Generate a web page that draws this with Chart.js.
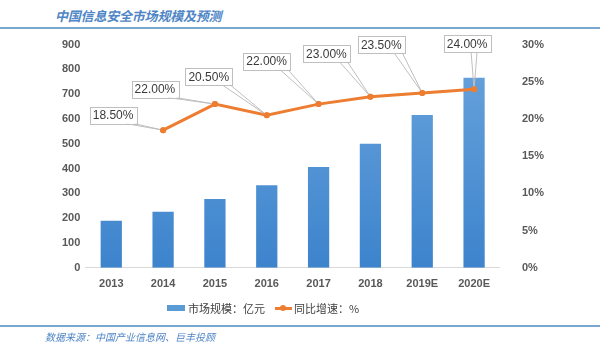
<!DOCTYPE html>
<html>
<head>
<meta charset="utf-8">
<script src="https://cdn.jsdelivr.net/npm/chart.js@4.4.0/dist/chart.umd.min.js"></script>
<style>
  html, body { margin:0; padding:0; background:#fff; }
  #wrap { position:relative; width:600px; height:352px; overflow:hidden; background:#fff; }
  #title { position:absolute; left:55px; top:6px; font-family:"Noto Sans CJK SC"; font-size:13px; font-weight:bold; font-style:italic; color:#4f86c6; line-height:20px; white-space:nowrap; letter-spacing:-0.2px; }
  .hline { position:absolute; left:0; width:600px; height:2px; background:#79a7cf; }
  #box { position:absolute; left:0; top:16px; width:600px; height:285px; }
  #legend { position:absolute; top:299px; left:0; width:600px; height:18px; font-family:"Noto Sans CJK SC"; font-size:11px; color:#404040; }
  .lg { position:absolute; top:0; line-height:18px; white-space:nowrap; }
  #source { position:absolute; left:45px; top:329px; font-family:"Noto Sans CJK SC"; font-size:10px; font-style:italic; color:#4f86c6; line-height:16px; white-space:nowrap; }
</style>
</head>
<body>
<div id="wrap">
  <div id="title">中国信息安全市场规模及预测</div>
  <div class="hline" style="top:27px"></div>
  <div id="box"><canvas id="c"></canvas></div>
  <div id="legend">
    <div style="position:absolute;left:167px;top:6px;width:18px;height:6px;background:#5b9bd5"></div>
    <div class="lg" style="left:188px">市场规模：亿元</div>
    <div style="position:absolute;left:275px;top:8px;width:17px;height:3px;background:#ed7d31"></div>
    <div style="position:absolute;left:280px;top:6px;width:6px;height:6px;border-radius:50%;background:#ed7d31"></div>
    <div class="lg" style="left:294px">同比增速：%</div>
  </div>
  <div class="hline" style="top:325px"></div>
  <div id="source">数据来源：中国产业信息网、巨丰投顾</div>
</div>
<script>
const categories = ["2013", "2014", "2015", "2016", "2017", "2018", "2019E", "2020E"];
const marketSize = [190, 226, 277, 333, 406, 500, 616, 766];
const growthRate = [null, 18.5, 22.0, 20.5, 22.0, 23.0, 23.5, 24.0];
const leftTicks = [0, 100, 200, 300, 400, 500, 600, 700, 800, 900];
const rightTicks = [0, 5, 10, 15, 20, 25, 30];

// label box offsets (style only), relative to point
const labelOffsets = [null, [-50,-15], [-60,-15], [-58,-39], [-52,-43], [-44,-43], [-41,-48], [-7,-46]];

const fontFam = '"Liberation Sans", Arial, sans-serif';

const calloutPlugin = {
  id: 'callouts',
  afterDatasetsDraw(chart) {
    const ctx = chart.ctx;
    const meta = chart.getDatasetMeta(1);
    ctx.save();
    ctx.font = '12px ' + fontFam;
    meta.data.forEach((pt, i) => {
      const v = growthRate[i];
      if (v === null || v === undefined) return;
      const off = labelOffsets[i];
      const txt = v.toFixed(2) + '%';
      const tw = ctx.measureText(txt).width;
      const w = tw + 6, h = 17;
      const cx = pt.x + off[0], cy = pt.y + off[1];
      const x0 = cx - w/2, y0 = cy - h/2;
      ctx.strokeStyle = '#bfbfbf';
      ctx.lineWidth = 1;
      const bx = Math.min(Math.max(pt.x, x0 + 6), x0 + w - 6);
      const a1 = off[0] < -20 ? x0 + w - 10 : bx - 3;
      const a2 = off[0] < -20 ? x0 + w - 2 : bx + 3;
      ctx.beginPath();
      ctx.moveTo(a1, y0 + h);
      ctx.lineTo(pt.x, pt.y);
      ctx.lineTo(a2, y0 + h);
      ctx.stroke();
      ctx.fillStyle = '#ffffff';
      ctx.fillRect(x0, y0, w, h);
      ctx.strokeRect(Math.round(x0)+0.5, Math.round(y0)+0.5, Math.round(w), h);
      ctx.fillStyle = '#3a3a3a';
      ctx.textAlign = 'center';
      ctx.textBaseline = 'middle';
      ctx.fillText(txt, cx, cy + 1);
    });
    meta.data.forEach((pt, i) => {
      if (growthRate[i] === null) return;
      ctx.beginPath();
      ctx.fillStyle = '#ed7d31';
      ctx.arc(pt.x, pt.y, 3, 0, Math.PI*2);
      ctx.fill();
    });
    ctx.restore();
  }
};

new Chart(document.getElementById('c'), {
  data: {
    labels: categories,
    datasets: [
      {
        type: 'bar',
        label: '市场规模：亿元',
        data: marketSize,
        yAxisID: 'y',
        order: 2,
        barPercentage: 0.41,
        categoryPercentage: 1.0,
        backgroundColor: (c) => {
          const ca = c.chart.chartArea;
          if (!ca) return '#5b9bd5';
          const g = c.chart.ctx.createLinearGradient(0, ca.top, 0, ca.bottom);
          g.addColorStop(0, '#6aa4dc');
          g.addColorStop(1, '#3d84cd');
          return g;
        }
      },
      {
        type: 'line',
        label: '同比增速：%',
        data: growthRate,
        yAxisID: 'y1',
        order: 1,
        borderColor: '#ed7d31',
        backgroundColor: '#ed7d31',
        borderWidth: 3,
        pointRadius: 3,
        pointBackgroundColor: '#ed7d31',
        pointBorderWidth: 0,
        tension: 0,
        spanGaps: false
      }
    ]
  },
  options: {
    responsive: true,
    maintainAspectRatio: false,
    animation: false,
    layout: { padding: { left: 57, right: 34, top: 8, bottom: 0 } },
    plugins: { legend: { display: false }, tooltip: { enabled: false } },
    scales: {
      x: {
        offset: true,
        grid: { display: false, drawTicks: false },
        border: { display: true, color: '#d9d9d9', width: 1 },
        ticks: { color: '#595959', font: { family: fontFam, size: 11, weight: 'bold' }, padding: 10 }
      },
      y: {
        position: 'left',
        min: 0, max: 900,
        afterBuildTicks: (s) => { s.ticks = leftTicks.map(v => ({ value: v })); },
        grid: { display: false, drawTicks: false },
        border: { display: false },
        ticks: { color: '#595959', font: { family: fontFam, size: 11, weight: 'bold' }, padding: 5 }
      },
      y1: {
        position: 'right',
        min: 0, max: 30,
        afterBuildTicks: (s) => { s.ticks = rightTicks.map(v => ({ value: v })); },
        grid: { display: false, drawTicks: false },
        border: { display: false },
        ticks: { color: '#595959', font: { family: fontFam, size: 11, weight: 'bold' }, padding: 22, callback: (v) => v + '%' }
      }
    }
  },
  plugins: [calloutPlugin]
});
</script>
</body>
</html>
